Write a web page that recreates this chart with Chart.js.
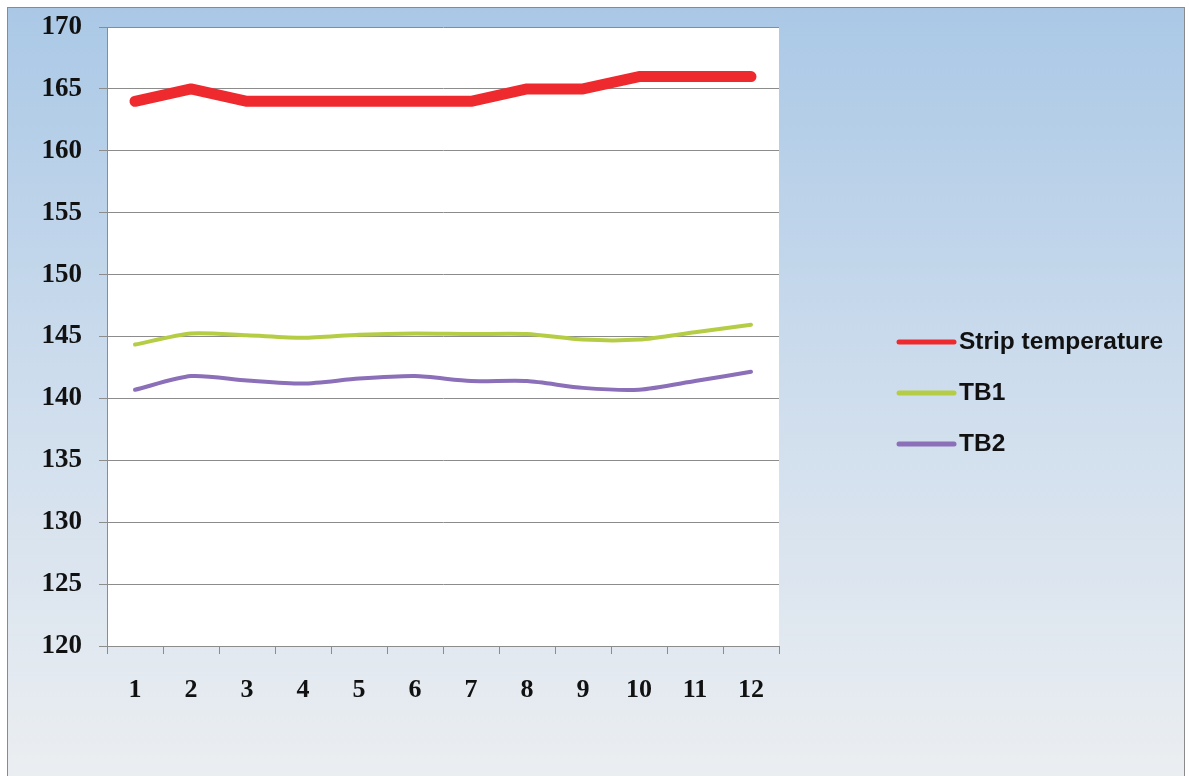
<!DOCTYPE html>
<html>
<head>
<meta charset="utf-8">
<script src="https://cdn.jsdelivr.net/npm/chart.js@4/dist/chart.umd.min.js"></script>
<style>
  html, body { margin: 0; padding: 0; background: #fff; }
  #line-chart { display: block; }
</style>
</head>
<body>
<canvas id="line-chart" width="1189" height="776"></canvas>
<script>
const CHART = document.getElementById("line-chart");

const labels = ['1', '2', '3', '4', '5', '6', '7', '8', '9', '10', '11', '12'];
const seriesNames = ['Strip temperature', 'TB1', 'TB2'];
const stripTemp = [164, 165, 164, 164, 164, 164, 164, 165, 165, 166, 166, 166];
const tb1 = [144.35, 145.25, 145.1, 144.9, 145.15, 145.25, 145.2, 145.2, 144.75, 144.75, 145.35, 145.95];
const tb2 = [140.7, 141.8, 141.45, 141.2, 141.6, 141.8, 141.4, 141.4, 140.85, 140.7, 141.4, 142.15];
const yMin = 120, yMax = 170, yStep = 5;

const GRID = '#8c8c8c';

// frame, gradient and white plot area
const backdrop = {
  id: 'backdrop',
  beforeDraw(chart) {
    const ctx = chart.ctx, a = chart.chartArea;
    const w = chart.width, h = chart.height;
    ctx.save();
    ctx.fillStyle = '#ffffff';
    ctx.fillRect(0, 0, w, h);
    const g = ctx.createLinearGradient(0, 7, 0, h);
    g.addColorStop(0, '#aac8e6');
    g.addColorStop(0.5, '#cedded');
    g.addColorStop(1, '#ebeef1');
    ctx.fillStyle = g;
    ctx.fillRect(7, 7, 1177, h);
    ctx.strokeStyle = '#8a8a8a';
    ctx.lineWidth = 1;
    ctx.strokeRect(7.5, 7.5, 1177, h + 5);
    ctx.fillStyle = '#ffffff';
    ctx.fillRect(a.left, a.top, a.right - a.left, a.bottom - a.top);
    ctx.restore();
  }
};

// legend drawn to the right, line sample plus label
const sideLegend = {
  id: 'sideLegend',
  afterDraw(chart) {
    const ctx = chart.ctx;
    ctx.save();
    ctx.font = 'bold 24.5px "Liberation Sans", Arial, sans-serif';
    ctx.textBaseline = 'middle';
    ctx.lineCap = 'round';
    chart.data.datasets.forEach((ds, i) => {
      const y = 342 + i * 51;
      ctx.strokeStyle = ds.borderColor;
      ctx.lineWidth = 5;
      ctx.beginPath();
      ctx.moveTo(899, y);
      ctx.lineTo(954, y);
      ctx.stroke();
      ctx.fillStyle = '#111';
      ctx.fillText(ds.label, 959, y);
    });
    ctx.restore();
  }
};

let lineChart = new Chart(CHART, {
  type: 'line',
  data: {
    labels: labels,
    datasets: [
      {
        label: seriesNames[0],
        data: stripTemp,
        borderColor: '#ee2a2f',
        borderWidth: 11,
        borderCapStyle: 'round',
        borderJoinStyle: 'round',
        pointRadius: 0,
        tension: 0,
      },
      {
        label: seriesNames[1],
        data: tb1,
        borderColor: '#b5cd45',
        borderWidth: 4,
        borderCapStyle: 'round',
        pointRadius: 0,
        tension: 0.25,
      },
      {
        label: seriesNames[2],
        data: tb2,
        borderColor: '#8b6fb8',
        borderWidth: 4,
        borderCapStyle: 'round',
        pointRadius: 0,
        tension: 0.25,
      }
    ]
  },
  options: {
    responsive: false,
    animation: false,
    layout: { padding: { top: 27, right: 410, bottom: 0, left: 0 } },
    plugins: {
      legend: { display: false },
      tooltip: { enabled: false }
    },
    scales: {
      x: {
        offset: true,
        grid: {
          offset: true,
          drawOnChartArea: false,
          color: GRID,
          tickLength: 8
        },
        border: { color: GRID },
        ticks: {
          color: '#111',
          padding: 21,
          maxRotation: 0,
          font: { family: '"Liberation Serif", serif', size: 26, weight: 'bold' }
        },
        afterFit(scale) { scale.height = 130; }
      },
      y: {
        min: yMin,
        max: yMax,
        grid: { color: GRID, tickLength: 8 },
        border: { color: GRID },
        ticks: {
          stepSize: yStep,
          color: '#111',
          padding: 17,
          font: { family: '"Liberation Serif", serif', size: 27, weight: 'bold' }
        },
        afterFit(scale) {
          scale.width = 107;
          scale.paddingTop = 0;
          scale.paddingBottom = 0;
        }
      }
    }
  },
  plugins: [backdrop, sideLegend]
});
</script>
</body>
</html>
